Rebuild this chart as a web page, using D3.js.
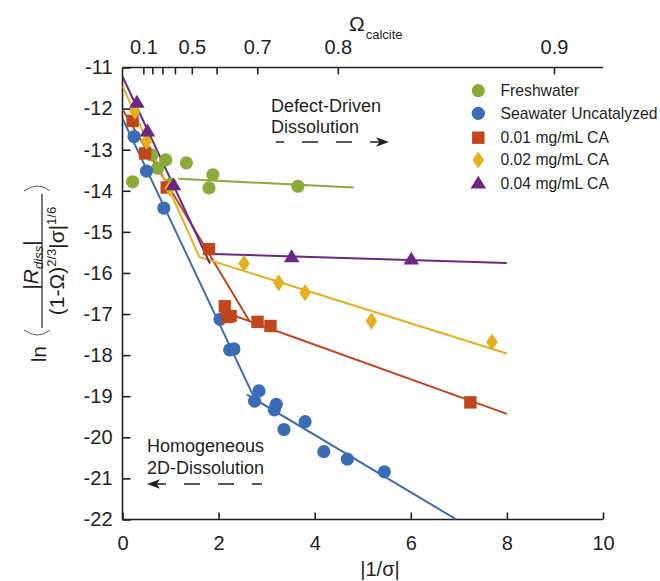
<!DOCTYPE html>
<html><head><meta charset="utf-8">
<script src="https://cdn.jsdelivr.net/npm/d3@7"></script>
<style>
body{margin:0;background:#fff}
text{font-family:"Liberation Sans",Arial,Helvetica,sans-serif;fill:#231f20}
</style>
</head><body>
<svg id="chart" width="660" height="581"></svg>
<script>
// ---------- data ----------
const xTicks = [0, 2, 4, 6, 8, 10];
const yTicks = [-11, -12, -13, -14, -15, -16, -17, -18, -19, -20, -21, -22];
const omegaTickPos = [0.434, 0.621, 0.831, 1.091, 1.443, 1.958, 2.804, 4.481, 8.98];
const omegaTickLabels = ["0.1", "", "", "", "0.5", "", "0.7", "0.8", "0.9"];

const seriesNames = ["Freshwater", "Seawater Uncatalyzed", "0.01 mg/mL CA", "0.02 mg/mL CA", "0.04 mg/mL CA"];
const seriesColors = ["#8aab3a", "#3a6db5", "#c2461b", "#e3b01f", "#6b2882"];
const seriesShapes = ["circle", "circle", "square", "diamond", "triangle"];

const freshwaterX = [0.21, 0.61, 0.73, 0.90, 1.00, 1.33, 1.80, 1.88, 3.65];
const freshwaterY = [-13.78, -13.13, -13.45, -13.25, -13.84, -13.32, -13.93, -13.61, -13.89];
const seawaterX = [0.24, 0.50, 0.86, 2.03, 2.23, 2.32, 2.75, 2.84, 3.16, 3.20, 3.36, 3.80, 4.19, 4.68, 5.45];
const seawaterY = [-12.68, -13.52, -14.42, -17.13, -17.87, -17.85, -19.12, -18.87, -19.33, -19.20, -19.81, -19.62, -20.35, -20.53, -20.84];
const ca001X = [0.21, 0.47, 0.92, 1.80, 2.13, 2.18, 2.25, 2.81, 3.08, 7.24];
const ca001Y = [-12.30, -13.09, -13.92, -15.42, -16.81, -17.07, -17.05, -17.19, -17.29, -19.15];
const ca002X = [0.26, 0.50, 0.99, 2.53, 3.25, 3.80, 5.18, 7.69];
const ca002Y = [-12.07, -12.79, -13.94, -15.77, -16.24, -16.48, -17.17, -17.68];
const ca004X = [0.30, 0.52, 1.06, 3.52, 6.01];
const ca004Y = [-11.85, -12.55, -13.86, -15.61, -15.67];

// fitted lines (x, y) per series
const freshFitX = [1.16, 4.81],        freshFitY = [-13.71, -13.92];
const seaFit1X = [0, 2.75],            seaFit1Y = [-12.24, -19.06];
const seaFit2X = [2.59, 6.95],         seaFit2Y = [-18.96, -22.0];
const ca001Fit1X = [0, 2.65],          ca001Fit1Y = [-12.02, -17.19];
const ca001Fit2X = [2.30, 8.0],        ca001Fit2Y = [-17.03, -19.43];
const ca002FitX = [0, 1.60, 8.0],      ca002FitY = [-11.45, -15.61, -17.96];
const ca004Fit1X = [0, 1.82],          ca004Fit1Y = [-11.22, -15.77];
const ca004Fit2X = [1.71, 8.0],        ca004Fit2Y = [-15.53, -15.76];

// ---------- layout ----------
const svg = d3.select("#chart");
svg.append("rect").attr("width", 660).attr("height", 581).attr("fill", "#fff");
const X0 = 122.5, X1 = 603, YT = 67.5, YB = 519.5;
const x = d3.scaleLinear().domain([0, 10]).range([X0, X1]);
const y = d3.scaleLinear().domain([-22, -11]).range([YB, YT]);
const axisColor = "#231f20";

svg.append("clipPath").attr("id", "plotclip").append("rect")
  .attr("x", X0).attr("y", YT).attr("width", X1 - X0).attr("height", YB - YT);

// ---------- axes ----------
const gB = svg.append("g").attr("transform", `translate(0,${YB})`)
  .call(d3.axisBottom(x).tickValues(xTicks).tickSize(-7).tickPadding(16).tickFormat(d3.format("d")));
const gL = svg.append("g").attr("transform", `translate(${X0},0)`)
  .call(d3.axisLeft(y).tickValues(yTicks).tickSize(-8).tickPadding(10).tickFormat(d => d3.format("d")(d).replace("−", "-")));
const gT = svg.append("g").attr("transform", `translate(0,${YT})`)
  .call(d3.axisTop(x).tickValues(omegaTickPos).tickSize(-7).tickPadding(14).tickFormat((d, i) => omegaTickLabels[i]));
[gB, gL, gT].forEach(g => {
  g.select(".domain").attr("stroke", axisColor).attr("stroke-width", 1.6);
  g.selectAll(".tick line").attr("stroke", axisColor).attr("stroke-width", 1.6);
  g.selectAll(".tick text").style("font-size", "20px").attr("fill", axisColor)
    .style("font-family", '"Liberation Sans",Arial,sans-serif');
});
gB.select(".domain").attr("d", `M${X0},0H${X1}`);
gT.select(".domain").attr("d", `M${X0},0H${X1}`);
gL.select(".domain").attr("d", `M0,${YT}V${YB}`);

// axis titles
svg.append("text").attr("x", 380).attr("y", 576).attr("text-anchor", "middle")
  .style("font-size", "20px").text("|1/σ|");
const om = svg.append("text").attr("x", 349).attr("y", 31).style("font-size", "21px");
om.append("tspan").text("Ω");
om.append("tspan").attr("dy", 8).attr("dx", 1).style("font-size", "13px").text("calcite");

// y label (rotated)
const yl = svg.append("g").attr("transform", "translate(42,262) rotate(-90)");
yl.append("text").attr("x", -84).attr("y", 4).attr("text-anchor", "end").style("font-size", "21px").text("ln");
yl.append("line").attr("x1", -66).attr("x2", 68).attr("y1", 0).attr("y2", 0)
  .attr("stroke", axisColor).attr("stroke-width", 1.2);
const num = yl.append("text").attr("x", -3).attr("y", -4).attr("text-anchor", "middle").style("font-size", "21px");
num.append("tspan").text("|");
num.append("tspan").style("font-style", "italic").text("R");
num.append("tspan").attr("dy", 5).style("font-size", "13px").style("font-style", "italic").text("diss");
num.append("tspan").attr("dy", -5).text("|");
const den = yl.append("text").attr("x", 1).attr("y", 22).attr("text-anchor", "middle").style("font-size", "21px");
den.append("tspan").text("(1-Ω)");
den.append("tspan").attr("dy", -8).style("font-size", "13px").text("2/3");
den.append("tspan").attr("dy", 8).text("|σ|");
den.append("tspan").attr("dy", -8).style("font-size", "13px").text("1/6");
// big parentheses
yl.append("path").attr("d", "M-68,-18 Q-78,-4 -68,8").attr("fill", "none").attr("stroke", "#444").attr("stroke-width", 0.9);
yl.append("path").attr("d", "M71,-18 Q81,-4 71,8").attr("fill", "none").attr("stroke", "#444").attr("stroke-width", 0.9);

// ---------- fit lines ----------
const line = d3.line().x(d => x(d[0])).y(d => y(d[1]));
const fits = [
  [freshFitX, freshFitY, 0], [seaFit1X, seaFit1Y, 1], [seaFit2X, seaFit2Y, 1],
  [ca001Fit1X, ca001Fit1Y, 2], [ca001Fit2X, ca001Fit2Y, 2],
  [ca002FitX, ca002FitY, 3], [ca004Fit1X, ca004Fit1Y, 4], [ca004Fit2X, ca004Fit2Y, 4]
];
const gLines = svg.append("g").attr("clip-path", "url(#plotclip)");
fits.forEach(([xs, ys, si]) => {
  gLines.append("path").datum(xs.map((v, i) => [v, ys[i]]))
    .attr("d", line).attr("fill", "none").attr("stroke", seriesColors[si]).attr("stroke-width", 2);
});

// ---------- markers ----------
function shapePath(shape) {
  switch (shape) {
    case "circle": return "M6.6,0A6.6,6.6 0 1,1 -6.6,0A6.6,6.6 0 1,1 6.6,0Z";
    case "square": return "M-6.2,-6.2H6.2V6.2H-6.2Z";
    case "diamond": return "M0,-8.6L5.8,0L0,8.6L-5.8,0Z";
    case "triangle": return "M0,-7.6L7.8,5.2H-7.8Z";
  }
}
const seriesData = [
  [freshwaterX, freshwaterY], [seawaterX, seawaterY], [ca001X, ca001Y], [ca002X, ca002Y], [ca004X, ca004Y]
];
seriesData.forEach(([xs, ys], si) => {
  svg.append("g").selectAll("path").data(xs.map((v, i) => [v, ys[i]])).join("path")
    .attr("transform", d => `translate(${x(d[0])},${y(d[1])})`)
    .attr("d", shapePath(seriesShapes[si])).attr("fill", seriesColors[si]);
});

// ---------- legend ----------
const lg = svg.append("g");
const legendY = [90.7, 113.3, 137.7, 160, 183.3];
seriesNames.forEach((n, i) => {
  lg.append("path").attr("transform", `translate(478.3,${legendY[i]})`)
    .attr("d", shapePath(seriesShapes[i])).attr("fill", seriesColors[i]);
  lg.append("text").attr("x", 500.5).attr("y", legendY[i]).attr("dy", "0.35em")
    .style("font-size", "15.7px").text(n);
});

// ---------- annotations ----------
function arrowHead(g, tx, ty, dir) {
  g.append("path").attr("transform", `translate(${tx},${ty}) scale(${dir},1)`)
    .attr("d", "M0,0L-13,-4.8L-9.5,0L-13,4.8Z").attr("fill", axisColor);
}
const ann = svg.append("g");
ann.append("text").attr("x", 271).attr("y", 111.5).style("font-size", "18px").text("Defect-Driven");
ann.append("text").attr("x", 271).attr("y", 133).style("font-size", "18px").text("Dissolution");
ann.append("line").attr("x1", 386).attr("x2", 276).attr("y1", 142).attr("y2", 142)
  .attr("stroke", axisColor).attr("stroke-width", 1.5).attr("stroke-dasharray", "16,18");
arrowHead(ann, 389, 142, 1);
ann.append("text").attr("x", 147).attr("y", 451.5).style("font-size", "18px").text("Homogeneous");
ann.append("text").attr("x", 147).attr("y", 474).style("font-size", "18px").text("2D-Dissolution");
ann.append("line").attr("x1", 150).attr("x2", 262).attr("y1", 484).attr("y2", 484)
  .attr("stroke", axisColor).attr("stroke-width", 1.5).attr("stroke-dasharray", "16,18");
arrowHead(ann, 147, 484, -1);
</script>
</body></html>
